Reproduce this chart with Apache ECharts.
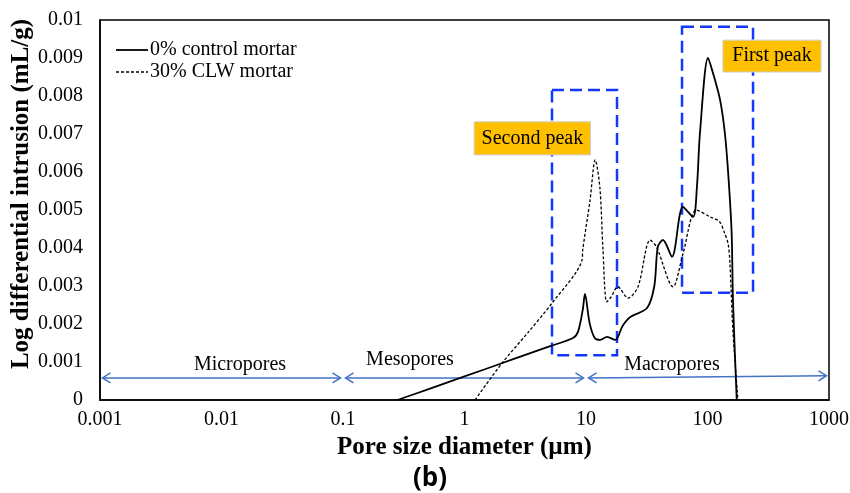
<!DOCTYPE html>
<html>
<head>
<meta charset="utf-8">
<script src="https://cdn.jsdelivr.net/npm/echarts@6/dist/echarts.min.js"></script>
<style>
    html, body { margin: 0; padding: 0; background: #fff; }
    #main { width: 850px; height: 493px; }
</style>
</head>
<body>
<div id="main"></div>
<script>
// 0% control mortar (solid)
const ctrlX = [0.28, 0.5, 1, 2, 3, 5, 7.8, 8.6, 9.4, 9.8, 10.7, 11.8, 13, 14.9, 17.4, 20, 23, 31.8, 36.5, 39, 43, 51, 62.8, 76, 81.8, 86.7, 101, 111, 127, 139, 148, 158, 162, 174];
const ctrlY = [0, 0.00028, 0.00062, 0.00096, 0.00116, 0.00141, 0.00163, 0.0018, 0.00237, 0.00279, 0.00203, 0.00163, 0.00158, 0.00166, 0.00158, 0.00195, 0.00218, 0.00242, 0.003, 0.00403, 0.00421, 0.00377, 0.00508, 0.00482, 0.0056, 0.00703, 0.009, 0.0086, 0.00789, 0.00702, 0.00597, 0.0044, 0.00263, 0];
// 30% CLW mortar (dashed)
const clwX = [1.22, 2.04, 3.3, 5.25, 9.27, 9.4, 10.8, 11.9, 13, 13.8, 14.8, 16, 18.3, 22.2, 26.8, 33.7, 38, 52, 63, 81, 105, 125, 138, 148, 153, 162, 178];
const clwY = [0, 0.000974, 0.00176, 0.00255, 0.00368, 0.00395, 0.00526, 0.00632, 0.0056, 0.00395, 0.00258, 0.0027, 0.00298, 0.00268, 0.00298, 0.00421, 0.00403, 0.00298, 0.00386, 0.005, 0.00482, 0.0047, 0.0044, 0.0041, 0.0036, 0.0018, 0];

// pore class arrows [x0, y0, x1, y1] and their labels
const poreArrows = [[0.001, 0.00058, 0.1, 0.00058], [0.1, 0.00058, 10, 0.00058], [10, 0.00058, 1000, 0.00064]];
const poreNames = ['Micropores', 'Mesopores', 'Macropores'];
const poreLabelX = [0.0142, 0.356, 51];
const poreLabelY = [0.00092, 0.00105, 0.00092];

// peak boxes (dashed blue) and their tags
const peakBoxes = [[5.25, 0.00816, 18, 0.00118], [61.7, 0.00982, 237, 0.00282]];
const peakTags = ['Second peak', 'First peak'];
const peakTagBoxes = [[1.2, 0.00732, 10.9, 0.00645], [134, 0.00947, 860, 0.00863]];

const serif = 'Liberation Serif';
const zip = (xs, ys) => xs.map((x, i) => [x, ys[i]]);

let myChart = echarts.init(document.getElementById('main'));
myChart.setOption({
    animation: false,
    grid: {
        left: 100, right: 21, top: 20, bottom: 93,
        outerBoundsMode: 'none',
        containLabel: false,
        show: true, borderColor: '#000', borderWidth: 1.5
    },
    xAxis: {
        type: 'log',
        logBase: 10,
        min: 0.001,
        max: 1000,
        name: 'Pore size diameter (µm)',
        nameLocation: 'middle',
        nameGap: 34,
        nameTextStyle: { fontFamily: serif, fontWeight: 'bold', fontSize: 25, color: '#000' },
        axisLine: { lineStyle: { color: '#000', width: 1.5 } },
        axisTick: { show: false },
        splitLine: { show: false },
        axisLabel: {
            fontFamily: serif, fontSize: 20, color: '#000', margin: 10,
            formatter: (v) => String(Number(v.toPrecision(3)))
        }
    },
    yAxis: {
        type: 'value',
        min: 0,
        max: 0.01,
        interval: 0.001,
        axisLine: { show: true, lineStyle: { color: '#000', width: 1.5 } },
        axisTick: { show: false },
        splitLine: { show: false },
        axisLabel: {
            fontFamily: serif, fontSize: 20, color: '#000', margin: 17,
            formatter: (v) => String(Number(v.toFixed(3)))
        }
    },
    series: [
        {
            name: '0% control mortar',
            type: 'line',
            data: zip(ctrlX, ctrlY),
            smooth: 0.3,
            showSymbol: false,
            lineStyle: { color: '#000', width: 1.8 },
            z: 3
        },
        {
            name: '30% CLW mortar',
            type: 'line',
            data: zip(clwX, clwY),
            smooth: 0.3,
            showSymbol: false,
            lineStyle: { color: '#000', width: 1.3, type: [3, 2] },
            z: 3
        },
        {
            type: 'line',
            data: [],
            silent: true,
            z: 2,
            markArea: {
                silent: true,
                data: peakBoxes.map((b) => [
                    { coord: [b[0], b[1]], itemStyle: { color: 'rgba(0,0,0,0)', borderColor: '#1238ff', borderWidth: 2.5, borderType: [12, 6], opacity: 1 } },
                    { coord: [b[2], b[3]] }
                ]).concat(peakTagBoxes.map((b, i) => [
                    {
                        name: peakTags[i],
                        coord: [b[0], b[1]],
                        itemStyle: { color: '#FFC000', borderColor: '#d0d0d0', borderWidth: 1, opacity: 1 },
                        label: { show: true, position: 'inside', color: '#000', fontFamily: serif, fontSize: 20 }
                    },
                    { coord: [b[2], b[3]] }
                ]))
            },
            markPoint: {
                silent: true,
                symbol: 'rect',
                symbolSize: 1,
                itemStyle: { color: 'rgba(0,0,0,0)' },
                label: { show: true, position: 'inside', formatter: '{b}', color: '#000', fontFamily: serif, fontSize: 20 },
                data: poreNames.map((n, i) => ({ name: n, coord: [poreLabelX[i], poreLabelY[i]] }))
            }
        }
    ]
});

// legend, y title, caption and pore arrows
let graphics = [
    { type: 'line', shape: { x1: 116, y1: 50, x2: 148, y2: 50 }, style: { stroke: '#000', lineWidth: 1.8 } },
    { type: 'text', x: 150, y: 50, style: { text: '0% control mortar', font: '20px "Liberation Serif"', fill: '#000', textVerticalAlign: 'middle' } },
    { type: 'line', shape: { x1: 116, y1: 72, x2: 148, y2: 72 }, style: { stroke: '#000', lineWidth: 1.3, lineDash: [3, 2] } },
    { type: 'text', x: 150, y: 72, style: { text: '30% CLW mortar', font: '20px "Liberation Serif"', fill: '#000', textVerticalAlign: 'middle' } },
    {
        type: 'text', x: 22, y: 194, rotation: Math.PI / 2,
        style: { text: 'Log differential intrusion (mL/g)', font: 'bold 25px "Liberation Serif"', fill: '#000', textAlign: 'center', textVerticalAlign: 'middle' }
    },
    { type: 'text', x: 430, y: 479, style: { text: '(b)', font: 'bold 26px "Open Sans"', fill: '#000', textAlign: 'center', textVerticalAlign: 'middle' } }
];
const arrowStyle = { stroke: '#4472C4', lineWidth: 1.5, fill: null };
poreArrows.forEach((a) => {
    let p0 = myChart.convertToPixel({ gridIndex: 0 }, [a[0], a[1]]);
    let p1 = myChart.convertToPixel({ gridIndex: 0 }, [a[2], a[3]]);
    let ang = Math.atan2(p1[1] - p0[1], p1[0] - p0[0]);
    let ux = Math.cos(ang), uy = Math.sin(ang);
    let t0 = [p0[0] + 2.5 * ux, p0[1] + 2.5 * uy];
    let t1 = [p1[0] - 2.5 * ux, p1[1] - 2.5 * uy];
    graphics.push({ type: 'line', shape: { x1: t0[0], y1: t0[1], x2: t1[0], y2: t1[1] }, style: arrowStyle });
    [[t0, 1], [t1, -1]].forEach(([t, s]) => {
        let bx = t[0] + s * 8 * ux, by = t[1] + s * 8 * uy;
        graphics.push({
            type: 'polyline',
            shape: { points: [[bx - 5 * uy, by + 5 * ux], t, [bx + 5 * uy, by - 5 * ux]] },
            style: arrowStyle
        });
    });
});
myChart.setOption({ graphic: graphics });
</script>
</body>
</html>
